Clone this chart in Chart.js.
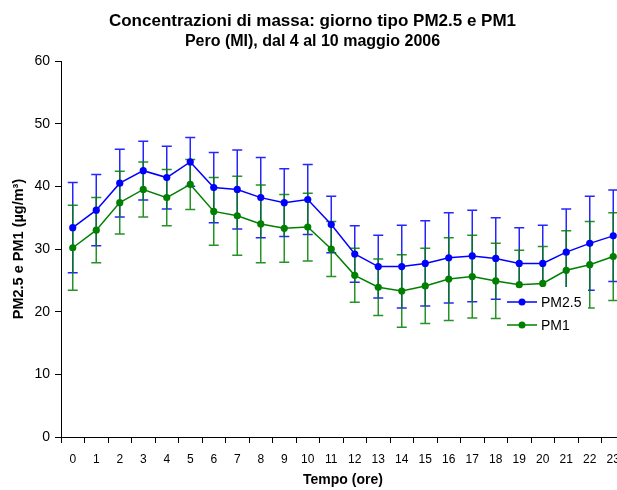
<!DOCTYPE html>
<html><head><meta charset="utf-8">
<script src="https://cdn.jsdelivr.net/npm/chart.js@4.4.1/dist/chart.umd.min.js"></script>
<style>html,body{margin:0;padding:0;background:#fff;overflow:hidden;width:617px;height:490px}</style>
</head><body>
<canvas id="c" width="630" height="490" style="display:block;width:630px;height:490px"></canvas>
<script>
const hours = ['0','1','2','3','4','5','6','7','8','9','10','11','12','13','14','15','16','17','18','19','20','21','22','23'];
const pm25 = [33.4, 36.2, 40.5, 42.5, 41.4, 43.9, 39.8, 39.5, 38.2, 37.4, 37.9, 33.9, 29.2, 27.2, 27.2, 27.7, 28.6, 28.9, 28.5, 27.7, 27.7, 29.5, 30.9, 32.1];
const pm25Err = [7.2, 5.7, 5.4, 4.7, 5.0, 3.9, 5.6, 6.3, 6.4, 5.4, 5.6, 4.5, 4.5, 5.0, 6.6, 6.8, 7.2, 7.3, 6.5, 5.7, 6.1, 6.9, 7.5, 7.3];
const pm1 = [30.2, 33.0, 37.4, 39.5, 38.2, 40.3, 36.0, 35.3, 34.0, 33.3, 33.5, 30.0, 25.8, 23.9, 23.3, 24.1, 25.2, 25.6, 24.9, 24.3, 24.5, 26.6, 27.5, 28.8];
const pm1Err = [6.8, 5.2, 5.0, 4.4, 4.5, 4.0, 5.4, 6.3, 6.2, 5.4, 5.4, 4.4, 4.3, 4.5, 5.8, 6.0, 6.6, 6.6, 6.0, 5.5, 5.9, 6.3, 6.9, 7.0];
const yTicks = [0, 10, 20, 30, 40, 50, 60];
const titleText = 'Concentrazioni di massa: giorno tipo PM2.5 e PM1';
const subtitleText = 'Pero (MI), dal 4 al 10 maggio 2006';
const xTitle = 'Tempo (ore)';
const yTitle = 'PM2.5 e PM1 (µg/m³)';

const FONT = "'Liberation Sans', Arial, Helvetica, sans-serif";
const BLUE = '#0000ff', GREEN = '#008000';

const errorBars = {
  id: 'errorBars',
  beforeDatasetsDraw(chart) {
    const ctx = chart.ctx, xs = chart.scales.x, ys = chart.scales.y, a = chart.chartArea;
    ctx.save();
    ctx.beginPath(); ctx.rect(a.left, a.top - 10, a.right - a.left, a.bottom - a.top + 10); ctx.clip();
    chart.data.datasets.forEach(ds => {
      ctx.strokeStyle = ds.errColor; ctx.lineWidth = 1.5;
      ds.data.forEach((v, j) => {
        const e = ds.errors[j];
        const px = xs.getPixelForValue(j);
        const t = ys.getPixelForValue(v + e), b = ys.getPixelForValue(v - e);
        ctx.beginPath();
        ctx.moveTo(px, t); ctx.lineTo(px, b);
        ctx.moveTo(px - 5, t); ctx.lineTo(px + 5, t);
        ctx.moveTo(px - 5, b); ctx.lineTo(px + 5, b);
        ctx.stroke();
      });
    });
    ctx.fillStyle = '#fff';
    ctx.fillRect(503, 287, 85, 51);
    ctx.restore();
  },
  afterDatasetsDraw(chart) {
    const ctx = chart.ctx;
    ctx.save();
    chart.data.datasets.forEach((ds, i) => {
      const y = 302 + i * 23;
      ctx.strokeStyle = ds.borderColor; ctx.lineWidth = 1.5;
      ctx.beginPath(); ctx.moveTo(507, y); ctx.lineTo(537, y); ctx.stroke();
      ctx.fillStyle = ds.borderColor;
      ctx.beginPath(); ctx.arc(522, y, 3.5, 0, Math.PI * 2); ctx.fill();
      ctx.fillStyle = '#000';
      ctx.font = '14px ' + FONT;
      ctx.textBaseline = 'middle'; ctx.textAlign = 'left';
      ctx.fillText(ds.label, 541, y + 1);
    });
    ctx.restore();
  }
};

new Chart(document.getElementById('c'), {
  type: 'line',
  data: {
    labels: hours,
    datasets: [
      { label: 'PM2.5', data: pm25, errors: pm25Err, errColor: 'rgba(0,0,255,0.85)', borderColor: BLUE, backgroundColor: BLUE,
        pointBackgroundColor: BLUE, pointBorderWidth: 0, pointRadius: 3.6, borderWidth: 1.5, tension: 0 },
      { label: 'PM1', data: pm1, errors: pm1Err, errColor: 'rgba(0,128,0,0.85)', borderColor: GREEN, backgroundColor: GREEN,
        pointBackgroundColor: GREEN, pointBorderWidth: 0, pointRadius: 3.6, borderWidth: 1.5, tension: 0 }
    ]
  },
  options: {
    responsive: false, animation: false, devicePixelRatio: 1,
    layout: { padding: { left: 0, right: 5, top: 0, bottom: 0 } },
    plugins: {
      legend: { display: false },
      tooltip: { enabled: false },
      title: { display: true, text: titleText, color: '#000', font: { family: FONT, size: 17, weight: 'bold' }, padding: { top: 10.8, bottom: 0 } },
      subtitle: { display: true, text: subtitleText, color: '#000', font: { family: FONT, size: 16, weight: 'bold' }, padding: { top: 0.5, bottom: 10.1 } }
    },
    scales: {
      x: {
        type: 'category', offset: true,
        grid: { display: true, drawOnChartArea: false, offset: true, tickLength: 6, color: '#000' },
        border: { display: true, color: '#000', width: 1 },
        ticks: { color: '#000', font: { family: FONT, size: 12 }, padding: 9, maxRotation: 0, autoSkip: false },
        title: { display: true, text: xTitle, color: '#000', font: { family: FONT, size: 14, weight: 'bold' }, padding: { top: 0, bottom: 1.6 } },
        afterFit(s) { s.height = 53; }
      },
      y: {
        min: yTicks[0], max: yTicks[yTicks.length - 1],
        afterBuildTicks(s) { s.ticks = yTicks.map(v => ({ value: v })); },
        grid: { display: true, drawOnChartArea: false, tickLength: 6, color: '#000' },
        border: { display: true, color: '#000', width: 1 },
        ticks: { color: '#000', font: { family: FONT, size: 14 }, padding: 5 },
        title: { display: true, text: yTitle, color: '#000', font: { family: FONT, size: 14.5, weight: 'bold' }, padding: { top: 10.4, bottom: 0 } },
        afterFit(s) { s.width = 61; }
      }
    }
  },
  plugins: [errorBars]
});
</script>
</body></html>
